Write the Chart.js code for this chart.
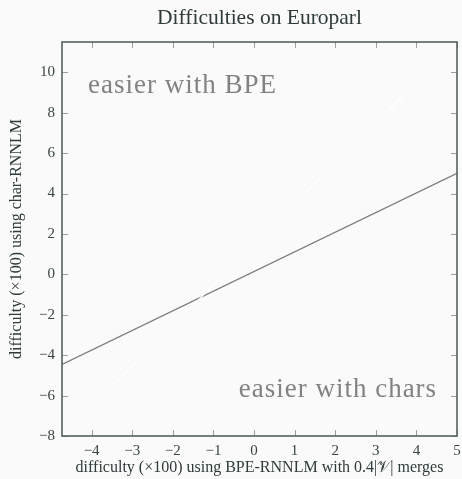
<!DOCTYPE html>
<html>
<head>
<meta charset="utf-8">
<script src="https://cdn.jsdelivr.net/npm/chart.js@4/dist/chart.umd.min.js"></script>
<style>
  html, body { margin: 0; padding: 0; background: #fafafa; }
  canvas { display: block; }
</style>
</head>
<body>
<canvas id="c" width="462" height="479"></canvas>
<script>
// Axis ranges and tick values
const xRange = [-4.73, 5];
const yRange = [-8, 11.5];
const xTicks = [-4, -3, -2, -1, 0, 1, 2, 3, 4, 5];
const yTicks = [-8, -6, -4, -2, 0, 2, 4, 6, 8, 10];

// Fitted difficulty line (BPE vs char)
const fitX = [-4.73, 5];
const fitY = [-4.46, 5];

// Region labels and their anchor points in data units
const regionLabels = ['easier with BPE', 'easier with chars'];
const regionAnchors = [
  { x: -4.09, y: 9.0, align: 'left' },
  { x: 4.51, y: -6.06, align: 'right' }
];

const chartTitle = 'Difficulties on Europarl';

const SERIF = '"Liberation Serif", "DejaVu Serif", serif';
const fmt = v => (v < 0 ? '\u2212' + Math.abs(v) : String(v));

const frameAndTicks = {
  id: 'frameAndTicks',
  beforeDraw(chart) {
    const { ctx } = chart;
    ctx.save();
    ctx.fillStyle = '#fafafa';
    ctx.fillRect(0, 0, chart.width, chart.height);
    ctx.restore();
  },
  afterDatasetsDraw(chart) {
    const { ctx, chartArea: a, scales: { x, y } } = chart;
    ctx.save();
    // title, centred over the plot area
    ctx.fillStyle = '#2f3a3a';
    ctx.font = '21.5px ' + SERIF;
    ctx.textAlign = 'center';
    ctx.textBaseline = 'alphabetic';
    ctx.fillText(chartTitle, (a.left + a.right) / 2, 23.5);
    // region labels
    ctx.fillStyle = '#828282';
    ctx.font = '27px ' + SERIF;
    ctx.letterSpacing = '1px';
    regionLabels.forEach((t, i) => {
      const p = regionAnchors[i];
      ctx.textAlign = p.align;
      ctx.fillText(t, x.getPixelForValue(p.x), y.getPixelForValue(p.y));
    });
    ctx.letterSpacing = '0px';
    // inward tick marks on all four sides
    ctx.strokeStyle = '#9a9f9f';
    ctx.lineWidth = 1;
    const len = 6;
    ctx.beginPath();
    xTicks.forEach(v => {
      const px = Math.round(x.getPixelForValue(v)) + 0.5;
      ctx.moveTo(px, a.bottom); ctx.lineTo(px, a.bottom - len);
      ctx.moveTo(px, a.top); ctx.lineTo(px, a.top + len);
    });
    yTicks.forEach(v => {
      const py = Math.round(y.getPixelForValue(v)) + 0.5;
      ctx.moveTo(a.left, py); ctx.lineTo(a.left + len, py);
      ctx.moveTo(a.right, py); ctx.lineTo(a.right - len, py);
    });
    ctx.stroke();
    // frame
    ctx.strokeStyle = '#55615f';
    ctx.lineWidth = 1.6;
    ctx.strokeRect(a.left, a.top, a.right - a.left, a.bottom - a.top);
    ctx.restore();
  }
};

new Chart(document.getElementById('c'), {
  type: 'scatter',
  data: {
    datasets: [
      {
        // faint corner-to-corner diagonal
        data: [{ x: xRange[0], y: yRange[0] }, { x: xRange[1], y: yRange[1] }],
        showLine: true,
        borderColor: '#ffffff',
        borderWidth: 1.2,
        pointRadius: 0,
        order: 0
      },
      {
        data: fitX.map((v, i) => ({ x: v, y: fitY[i] })),
        showLine: true,
        borderColor: '#7a7a7a',
        borderWidth: 1.4,
        pointRadius: 0,
        order: 1
      }
    ]
  },
  options: {
    responsive: false,
    animation: false,
    layout: { padding: { top: 42, right: 0, bottom: 0, left: 0 } },
    plugins: {
      legend: { display: false },
      tooltip: { enabled: false },
      title: { display: false }
    },
    scales: {
      x: {
        type: 'linear',
        min: xRange[0],
        max: xRange[1],
        afterBuildTicks: s => { s.ticks = xTicks.map(v => ({ value: v })); },
        afterFit: s => { s.height = 43; s.paddingRight = 5; s.paddingLeft = 0; },
        grid: { display: false, drawTicks: false },
        border: { display: false },
        ticks: {
          padding: 6,
          color: '#3a4444',
          font: { family: SERIF, size: 15 },
          maxRotation: 0,
          callback: v => fmt(v)
        },
        title: {
          display: true,
          text: 'difficulty (\u00d7100) using BPE-RNNLM with 0.4|\ud835\udcb1| merges',
          color: '#2f3a3a',
          font: { family: SERIF, size: 16 },
          padding: { top: 0, bottom: 2 }
        }
      },
      y: {
        type: 'linear',
        min: yRange[0],
        max: yRange[1],
        afterBuildTicks: s => { s.ticks = yTicks.map(v => ({ value: v })); },
        afterFit: s => { s.width = 62; },
        grid: { display: false, drawTicks: false },
        border: { display: false },
        ticks: {
          padding: 7,
          color: '#3a4444',
          font: { family: SERIF, size: 15 },
          callback: v => fmt(v)
        },
        title: {
          display: true,
          text: 'difficulty (\u00d7100) using char-RNNLM',
          color: '#2f3a3a',
          font: { family: SERIF, size: 16 },
          padding: { top: 7, bottom: 0 }
        }
      }
    }
  },
  plugins: [frameAndTicks]
});
</script>
</body>
</html>
